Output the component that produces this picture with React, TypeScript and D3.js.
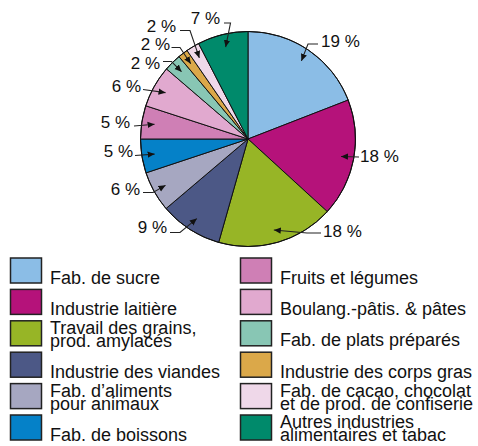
import React from "react";
import * as d3 from "d3";

// shares (percent), clockwise from 12 o'clock
const categories = [
  "Fab. de sucre",
  "Industrie laitière",
  "Travail des grains,\nprod. amylacés",
  "Industrie des viandes",
  "Fab. d’aliments\npour animaux",
  "Fab. de boissons",
  "Fruits et légumes",
  "Boulang.-pâtis. & pâtes",
  "Fab. de plats préparés",
  "Industrie des corps gras",
  "Fab. de cacao, chocolat\net de prod. de confiserie",
  "Autres industries\nalimentaires et tabac",
];
const values = [19.1, 17.7, 17.6, 9.4, 6.1, 5.1, 5.0, 6.3, 2.6, 1.5, 2.0, 7.6];
const shownPct = ["19 %", "18 %", "18 %", "9 %", "6 %", "5 %", "5 %", "6 %", "2 %", "2 %", "2 %", "7 %"];
const colors = [
  "#8bbde6", "#b5127a", "#97b526", "#4c5886", "#a6a7c1", "#0581c8",
  "#cf7fb5", "#e1a9cf", "#88c6b4", "#dba849", "#efd8e9", "#008a6b",
];

// label layout: text point, anchor, leader start, elbow
const labelLayout = [
  { tx: 321, ty: 47, anchor: "start", start: [318, 44], elbow: [308, 44] },
  { tx: 360, ty: 162, anchor: "start", start: [359, 157], elbow: null },
  { tx: 323, ty: 237, anchor: "start", start: [321, 233], elbow: [307, 233] },
  { tx: 167, ty: 233, anchor: "end", start: [170, 232.5], elbow: [180, 232.5] },
  { tx: 140, ty: 195, anchor: "end", start: [143, 192.5], elbow: [153, 192.5] },
  { tx: 133, ty: 157, anchor: "end", start: [135, 155.5], elbow: null },
  { tx: 130, ty: 128, anchor: "end", start: [134, 126], elbow: null },
  { tx: 141, ty: 92, anchor: "end", start: [143, 89.5], elbow: null },
  { tx: 160, ty: 69, anchor: "end", start: [163, 61.5], elbow: [171.5, 61.5] },
  { tx: 170, ty: 50, anchor: "end", start: [171.5, 47.5], elbow: [180, 47.5] },
  { tx: 176, ty: 31.5, anchor: "end", start: [180, 30.5], elbow: [190, 30.5] },
  { tx: 220, ty: 24, anchor: "end", start: [224, 23], elbow: [230.5, 23] },
];

const W = 478;
const H = 446;
const cx = 248;
const cy = 139;
const R = 107.5;
const FONT = "'Liberation Sans', Arial, Helvetica, sans-serif";

export default function App() {
  const pie = d3.pie<number>().sort(null).value(d => d)(values);
  const arc = d3.arc<d3.PieArcDatum<number>>().innerRadius(0).outerRadius(R);

  const tip = (d: d3.PieArcDatum<number>) => {
    const a = (d.startAngle + d.endAngle) / 2;
    const r = R * 0.88;
    return [cx + r * Math.sin(a), cy - r * Math.cos(a)];
  };

  // legend
  const rowY = d3.range(6).map(i => 258 + i * 31.4);
  const colX = [10.5, 240.5];

  return (
    <svg width={W} height={H} style={{ position: "absolute", left: 0, top: 0, background: "#fff" }}>
      <defs>
        <marker id="arr" viewBox="0 0 10 10" refX="10" refY="5" markerWidth="7" markerHeight="7"
          markerUnits="userSpaceOnUse" orient="auto">
          <path d="M0,0.5 L10,5 L0,9.5 Z" fill="#111" />
        </marker>
      </defs>
      <g transform={`translate(${cx},${cy})`}>
        {pie.map((d, i) => (
          <path key={i} d={arc(d) || ""} fill={colors[i]} stroke="#111" strokeWidth={1} strokeLinejoin="round" />
        ))}
        <circle r={R} fill="none" stroke="#111" strokeWidth={1} />
      </g>
      {pie.map((d, i) => {
        const L = labelLayout[i];
        const t = tip(d);
        const pts = [L.start, ...(L.elbow ? [L.elbow] : []), t];
        return (
          <g key={i}>
            <polyline points={pts.map(p => p.join(",")).join(" ")} fill="none" stroke="#222"
              strokeWidth={1.1} markerEnd="url(#arr)" />
            <text x={L.tx} y={L.ty} textAnchor={L.anchor} style={{ fontFamily: FONT, fontSize: 17 }} fill="#111">
              {shownPct[i]}
            </text>
          </g>
        );
      })}
      {categories.map((c, i) => {
        const col = Math.floor(i / 6);
        const row = i % 6;
        const x = colX[col];
        const y = rowY[row];
        const lines = c.split("\n");
        return (
          <g key={i}>
            <rect x={x} y={y} width={31} height={25} fill={colors[i]} stroke="#222" strokeWidth={1.5} />
            <text x={x + 39.5} style={{ fontFamily: FONT, fontSize: 18 }} fill="#111">
              {lines.length === 1 ? (
                <tspan x={x + 39.5} y={y + 25.5}>{lines[0]}</tspan>
              ) : (
                lines.map((l, j) => (
                  <tspan key={j} x={x + 39.5} y={y + 13.3 + j * 13}>{l}</tspan>
                ))
              )}
            </text>
          </g>
        );
      })}
    </svg>
  );
}
